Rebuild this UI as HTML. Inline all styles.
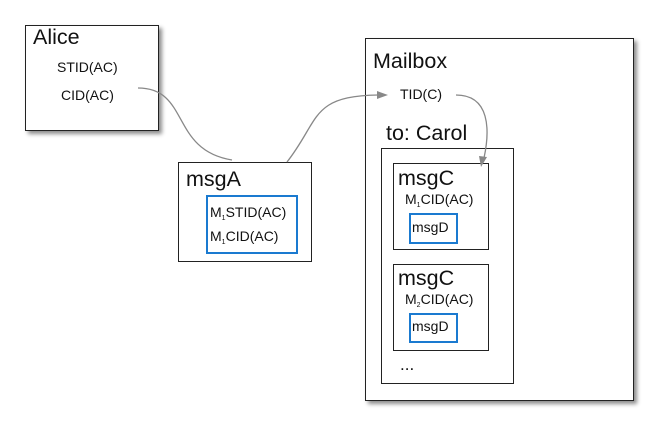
<!DOCTYPE html>
<html><head><style>
body{margin:0;width:657px;height:431px;background:#fff;position:relative;font-family:"Liberation Sans",Arial,sans-serif;overflow:hidden}
.b{position:absolute;border:1.5px solid #222;background:#fff;box-sizing:border-box}
.sh{box-shadow:3px 3px 4px rgba(0,0,0,.45)}
.bl{position:absolute;border:2.5px solid #1a7ad0;box-sizing:border-box;background:#fff}
.t{position:absolute;white-space:nowrap;color:#111}
.h{font-size:21.5px}
.s{font-size:14px}
sub{font-size:7px;vertical-align:-3px}
</style></head><body>
<div class="b sh" style="left:25px;top:25px;width:134px;height:106px"></div>
<div class="t h" style="left:33px;top:25px">Alice</div>
<div class="t s" style="left:57px;top:59px">STID(AC)</div>
<div class="t s" style="left:61px;top:87px">CID(AC)</div>

<div class="b" style="left:178px;top:162px;width:134px;height:100px"></div>
<div class="t h" style="left:186px;top:167px">msgA</div>
<div class="bl" style="left:206px;top:195px;width:92px;height:59px"></div>
<div class="t s" style="left:210px;top:204px">M<sub>1</sub>STID(AC)</div>
<div class="t s" style="left:210px;top:228px">M<sub>1</sub>CID(AC)</div>

<div class="b sh" style="left:365px;top:38px;width:269px;height:363px"></div>
<div class="t h" style="left:373px;top:49px">Mailbox</div>
<div class="t s" style="left:400px;top:86px">TID(C)</div>
<div class="t h" style="left:386px;top:121px">to: Carol</div>
<div class="b" style="left:381px;top:148px;width:133px;height:236px"></div>

<div class="b" style="left:393px;top:163px;width:96px;height:87px"></div>
<div class="t h" style="left:398px;top:166px">msgC</div>
<div class="t s" style="left:405px;top:191px">M<sub>1</sub>CID(AC)</div>
<div class="bl" style="left:409px;top:213px;width:49px;height:31px"></div>
<div class="t s" style="left:412px;top:219px">msgD</div>

<div class="b" style="left:393px;top:264px;width:96px;height:87px"></div>
<div class="t h" style="left:398px;top:266px">msgC</div>
<div class="t s" style="left:405px;top:291px">M<sub>2</sub>CID(AC)</div>
<div class="bl" style="left:409px;top:313px;width:49px;height:30px"></div>
<div class="t s" style="left:412px;top:318px">msgD</div>
<div class="t" style="left:400px;top:355px;font-size:17px">...</div>

<svg width="657" height="431" style="position:absolute;left:0;top:0" fill="none" stroke="#888" stroke-width="1.3">
<path d="M138 88 C190 88,170 150,232 160"/>
<path d="M287 162 C320 120,310 96,378 95"/>
<polygon points="388,95 377,91 377,99" fill="#888" stroke="none"/>
<path d="M456 95 C490 95,490 130,484 158"/>
<polygon points="481,167 479,156 487,157" fill="#888" stroke="none"/>
</svg>
</body></html>
